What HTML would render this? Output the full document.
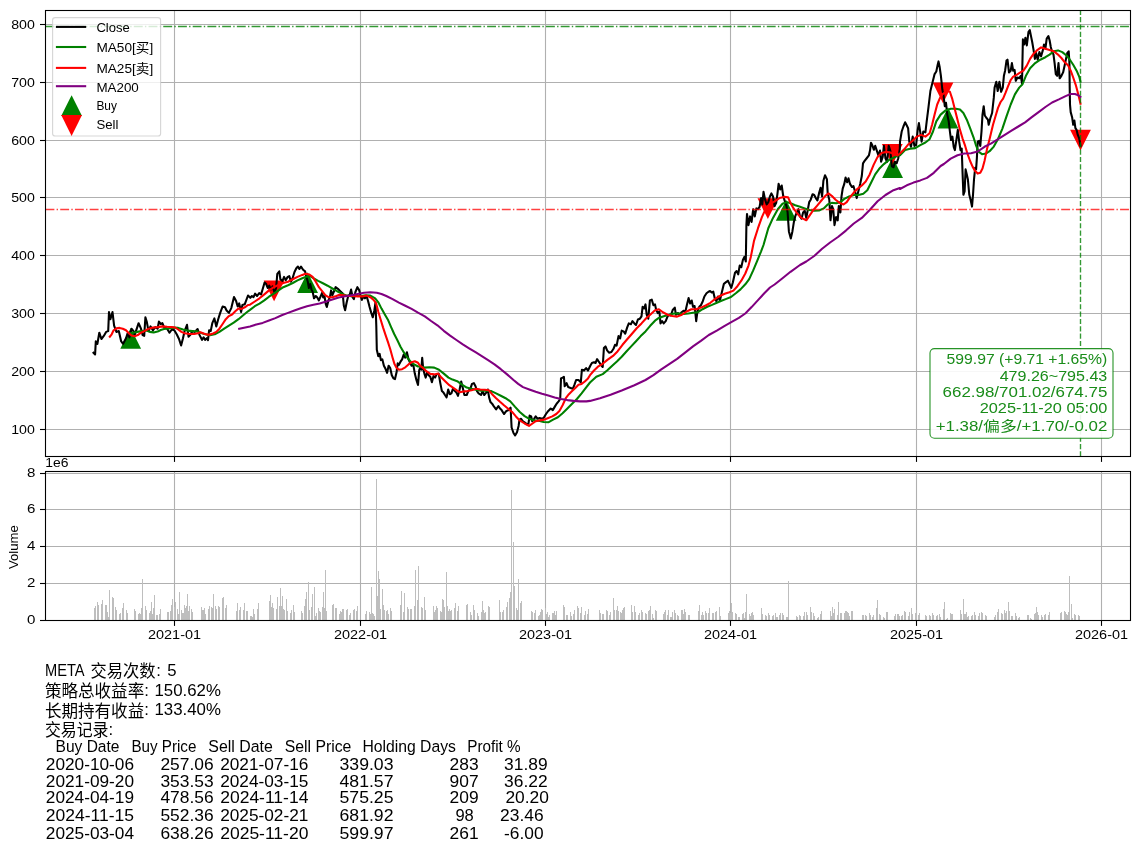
<!DOCTYPE html>
<html lang="zh"><head><meta charset="utf-8"><title>META</title>
<style>html,body{margin:0;padding:0;background:#fff}svg{display:block}</style></head>
<body>
<svg width="1139" height="852" viewBox="0 0 1139 852" font-family="'Liberation Sans', 'Noto Sans CJK SC', sans-serif">
<rect width="1139" height="852" fill="#fff"/>
<g stroke="#b0b0b0" stroke-width="1.1" fill="none">
<path d="M174.5 10.5V456.5"/>
<path d="M174.5 471.5V620.5"/>
<path d="M360.5 10.5V456.5"/>
<path d="M360.5 471.5V620.5"/>
<path d="M545.5 10.5V456.5"/>
<path d="M545.5 471.5V620.5"/>
<path d="M730.5 10.5V456.5"/>
<path d="M730.5 471.5V620.5"/>
<path d="M916.5 10.5V456.5"/>
<path d="M916.5 471.5V620.5"/>
<path d="M1101.5 10.5V456.5"/>
<path d="M1101.5 471.5V620.5"/>
<path d="M45.5 429.5H1130.5"/>
<path d="M45.5 371.5H1130.5"/>
<path d="M45.5 313.5H1130.5"/>
<path d="M45.5 255.5H1130.5"/>
<path d="M45.5 197.5H1130.5"/>
<path d="M45.5 140.5H1130.5"/>
<path d="M45.5 82.5H1130.5"/>
<path d="M45.5 24.5H1130.5"/>
<path d="M45.5 583.5H1130.5"/>
<path d="M45.5 546.5H1130.5"/>
<path d="M45.5 509.5H1130.5"/>
<path d="M45.5 473.5H1130.5"/>
</g>
<clipPath id="c"><rect x="45.5" y="10.5" width="1085.0" height="446.0"/></clipPath>
<path d="M94.5 620.5V608.2M95.5 620.5V605.8M97.5 620.5V601.8M98.5 620.5V605.3M101.5 620.5V603.7M102.5 620.5V600.2M105.5 620.5V604.8M106.5 620.5V604.8M107.5 620.5V612.4M108.5 620.5V617.0M109.5 620.5V590.2M112.5 620.5V596.6M113.5 620.5V598.4M115.5 620.5V606.7M116.5 620.5V609.7M119.5 620.5V614.1M120.5 620.5V613.4M122.5 620.5V608.0M123.5 620.5V603.4M126.5 620.5V610.4M127.5 620.5V613.4M134.5 620.5V609.1M135.5 620.5V610.6M138.5 620.5V613.5M139.5 620.5V612.5M140.5 620.5V614.1M141.5 620.5V607.5M142.5 620.5V579.0M145.5 620.5V605.7M146.5 620.5V609.8M149.5 620.5V612.5M150.5 620.5V610.6M151.5 620.5V602.4M152.5 620.5V613.9M153.5 620.5V608.4M154.5 620.5V594.8M156.5 620.5V614.6M157.5 620.5V614.8M159.5 620.5V613.9M160.5 620.5V609.4M167.5 620.5V611.6M168.5 620.5V611.9M170.5 620.5V610.5M171.5 620.5V605.1M172.5 620.5V598.5M174.5 620.5V606.7M175.5 620.5V602.0M177.5 620.5V609.2M178.5 620.5V613.6M179.5 620.5V592.4M181.5 620.5V609.5M182.5 620.5V612.7M183.5 620.5V613.1M184.5 620.5V605.0M185.5 620.5V607.9M186.5 620.5V606.0M187.5 620.5V594.2M188.5 620.5V611.2M189.5 620.5V606.1M191.5 620.5V608.8M192.5 620.5V611.8M201.5 620.5V607.2M202.5 620.5V609.7M203.5 620.5V609.7M204.5 620.5V607.7M205.5 620.5V614.3M208.5 620.5V609.1M209.5 620.5V605.6M211.5 620.5V606.8M212.5 620.5V607.6M213.5 620.5V594.2M215.5 620.5V606.3M216.5 620.5V608.5M218.5 620.5V606.1M219.5 620.5V607.0M222.5 620.5V597.5M223.5 620.5V596.6M225.5 620.5V608.1M226.5 620.5V605.1M236.5 620.5V611.3M237.5 620.5V603.1M239.5 620.5V610.4M240.5 620.5V606.5M243.5 620.5V609.9M244.5 620.5V602.9M246.5 620.5V611.0M247.5 620.5V610.5M250.5 620.5V616.2M251.5 620.5V615.8M252.5 620.5V616.5M253.5 620.5V609.0M254.5 620.5V614.4M257.5 620.5V609.3M258.5 620.5V602.9M269.5 620.5V601.2M270.5 620.5V595.4M271.5 620.5V607.4M272.5 620.5V603.3M273.5 620.5V607.6M276.5 620.5V609.3M277.5 620.5V596.6M279.5 620.5V606.2M280.5 620.5V587.6M281.5 620.5V605.7M282.5 620.5V596.1M283.5 620.5V608.9M284.5 620.5V609.9M286.5 620.5V598.5M287.5 620.5V610.6M290.5 620.5V612.7M291.5 620.5V609.7M293.5 620.5V604.7M294.5 620.5V611.8M301.5 620.5V610.8M302.5 620.5V613.3M304.5 620.5V606.2M305.5 620.5V598.6M306.5 620.5V591.8M308.5 620.5V582.3M309.5 620.5V609.5M311.5 620.5V607.4M312.5 620.5V594.2M314.5 620.5V587.4M315.5 620.5V616.2M316.5 620.5V613.2M318.5 620.5V608.3M319.5 620.5V611.0M320.5 620.5V611.7M322.5 620.5V607.1M323.5 620.5V592.0M324.5 620.5V607.8M325.5 620.5V570.2M326.5 620.5V611.2M332.5 620.5V604.7M333.5 620.5V604.1M335.5 620.5V608.4M336.5 620.5V608.4M339.5 620.5V613.9M340.5 620.5V611.0M341.5 620.5V611.5M342.5 620.5V609.1M343.5 620.5V608.9M346.5 620.5V610.4M347.5 620.5V609.1M349.5 620.5V615.2M350.5 620.5V613.0M353.5 620.5V610.3M354.5 620.5V608.7M356.5 620.5V610.6M357.5 620.5V606.3M365.5 620.5V614.4M366.5 620.5V611.4M369.5 620.5V612.4M370.5 620.5V613.9M371.5 620.5V587.4M372.5 620.5V612.9M373.5 620.5V613.8M374.5 620.5V615.9M376.5 620.5V479.0M377.5 620.5V596.2M378.5 620.5V570.9M379.5 620.5V579.2M380.5 620.5V608.8M382.5 620.5V589.3M383.5 620.5V605.2M384.5 620.5V609.7M386.5 620.5V611.1M387.5 620.5V609.8M388.5 620.5V613.9M390.5 620.5V608.3M391.5 620.5V611.0M400.5 620.5V605.2M401.5 620.5V591.1M403.5 620.5V611.8M404.5 620.5V592.9M407.5 620.5V607.2M408.5 620.5V609.4M410.5 620.5V609.3M411.5 620.5V608.5M414.5 620.5V605.8M415.5 620.5V570.2M417.5 620.5V600.3M418.5 620.5V566.3M421.5 620.5V607.0M422.5 620.5V608.4M424.5 620.5V597.1M425.5 620.5V609.6M433.5 620.5V605.8M434.5 620.5V612.4M435.5 620.5V610.4M436.5 620.5V606.1M437.5 620.5V608.2M440.5 620.5V611.3M441.5 620.5V611.7M442.5 620.5V598.5M443.5 620.5V599.7M444.5 620.5V607.4M446.5 620.5V572.2M447.5 620.5V606.4M448.5 620.5V610.5M449.5 620.5V608.6M450.5 620.5V610.8M451.5 620.5V609.9M454.5 620.5V608.2M455.5 620.5V603.3M457.5 620.5V610.6M458.5 620.5V606.2M466.5 620.5V604.5M467.5 620.5V603.6M470.5 620.5V612.3M471.5 620.5V614.5M473.5 620.5V604.5M474.5 620.5V610.1M477.5 620.5V613.3M478.5 620.5V616.0M481.5 620.5V611.5M482.5 620.5V600.8M483.5 620.5V609.6M484.5 620.5V612.7M485.5 620.5V611.5M488.5 620.5V605.8M489.5 620.5V607.1M499.5 620.5V599.7M500.5 620.5V611.5M502.5 620.5V611.5M503.5 620.5V610.3M506.5 620.5V606.7M507.5 620.5V601.9M509.5 620.5V598.0M510.5 620.5V592.4M511.5 620.5V490.0M513.5 620.5V542.0M514.5 620.5V585.6M516.5 620.5V608.3M517.5 620.5V609.7M518.5 620.5V579.2M520.5 620.5V603.2M521.5 620.5V600.5M531.5 620.5V611.1M532.5 620.5V612.2M534.5 620.5V613.3M535.5 620.5V609.8M538.5 620.5V615.6M539.5 620.5V614.5M540.5 620.5V611.8M541.5 620.5V609.4M542.5 620.5V609.8M545.5 620.5V608.1M546.5 620.5V613.7M547.5 620.5V612.1M548.5 620.5V616.6M549.5 620.5V615.2M552.5 620.5V612.6M553.5 620.5V613.2M554.5 620.5V611.4M555.5 620.5V615.3M556.5 620.5V611.2M563.5 620.5V605.0M564.5 620.5V606.5M566.5 620.5V615.0M567.5 620.5V614.9M570.5 620.5V612.4M571.5 620.5V616.2M573.5 620.5V614.0M574.5 620.5V610.2M577.5 620.5V606.1M578.5 620.5V607.6M580.5 620.5V612.9M581.5 620.5V607.3M584.5 620.5V614.7M585.5 620.5V610.9M587.5 620.5V613.9M588.5 620.5V608.9M599.5 620.5V610.3M600.5 620.5V612.5M602.5 620.5V613.6M603.5 620.5V613.8M606.5 620.5V610.2M607.5 620.5V611.3M609.5 620.5V615.4M610.5 620.5V612.1M613.5 620.5V597.8M614.5 620.5V610.2M616.5 620.5V609.9M617.5 620.5V606.4M618.5 620.5V610.9M620.5 620.5V611.7M621.5 620.5V612.6M622.5 620.5V610.0M623.5 620.5V608.2M624.5 620.5V607.1M631.5 620.5V604.7M632.5 620.5V612.3M634.5 620.5V605.5M635.5 620.5V612.4M638.5 620.5V614.7M639.5 620.5V612.5M641.5 620.5V609.7M642.5 620.5V611.7M645.5 620.5V612.7M646.5 620.5V614.1M648.5 620.5V611.4M649.5 620.5V610.0M650.5 620.5V605.6M652.5 620.5V614.3M653.5 620.5V618.0M655.5 620.5V609.8M656.5 620.5V610.7M663.5 620.5V613.8M664.5 620.5V612.2M665.5 620.5V610.0M667.5 620.5V614.5M668.5 620.5V609.5M670.5 620.5V616.6M671.5 620.5V616.7M672.5 620.5V611.7M674.5 620.5V610.3M675.5 620.5V613.1M677.5 620.5V615.2M678.5 620.5V616.0M681.5 620.5V610.3M682.5 620.5V610.2M683.5 620.5V613.5M684.5 620.5V609.1M685.5 620.5V611.7M688.5 620.5V615.3M689.5 620.5V615.0M698.5 620.5V610.8M699.5 620.5V605.1M701.5 620.5V614.5M702.5 620.5V612.2M703.5 620.5V614.6M705.5 620.5V610.8M706.5 620.5V612.7M708.5 620.5V612.5M709.5 620.5V608.4M712.5 620.5V612.7M713.5 620.5V612.7M715.5 620.5V612.1M716.5 620.5V610.8M719.5 620.5V606.6M720.5 620.5V616.3M728.5 620.5V612.8M729.5 620.5V611.3M730.5 620.5V613.2M731.5 620.5V603.1M732.5 620.5V612.1M735.5 620.5V613.2M736.5 620.5V614.0M738.5 620.5V616.6M739.5 620.5V616.5M742.5 620.5V613.9M743.5 620.5V613.4M744.5 620.5V618.2M745.5 620.5V612.0M746.5 620.5V593.5M749.5 620.5V614.1M750.5 620.5V616.0M751.5 620.5V613.4M752.5 620.5V611.7M753.5 620.5V614.5M761.5 620.5V607.7M762.5 620.5V614.3M765.5 620.5V615.3M766.5 620.5V615.5M768.5 620.5V613.4M769.5 620.5V615.4M772.5 620.5V615.5M773.5 620.5V615.4M775.5 620.5V613.0M776.5 620.5V616.8M777.5 620.5V617.2M779.5 620.5V615.4M780.5 620.5V612.8M782.5 620.5V612.8M783.5 620.5V614.8M786.5 620.5V616.5M787.5 620.5V616.8M788.5 620.5V580.6M796.5 620.5V616.1M797.5 620.5V616.9M799.5 620.5V615.4M800.5 620.5V615.8M803.5 620.5V615.8M804.5 620.5V612.4M806.5 620.5V612.3M807.5 620.5V615.1M810.5 620.5V606.5M811.5 620.5V611.5M813.5 620.5V612.5M814.5 620.5V616.0M817.5 620.5V617.8M818.5 620.5V616.8M820.5 620.5V613.5M821.5 620.5V611.1M830.5 620.5V610.8M831.5 620.5V615.6M832.5 620.5V606.9M833.5 620.5V612.6M834.5 620.5V609.1M837.5 620.5V614.9M838.5 620.5V601.6M840.5 620.5V613.0M841.5 620.5V612.9M844.5 620.5V612.9M845.5 620.5V610.5M846.5 620.5V610.6M847.5 620.5V611.9M848.5 620.5V613.0M849.5 620.5V615.6M851.5 620.5V611.2M852.5 620.5V610.5M862.5 620.5V614.6M863.5 620.5V615.2M865.5 620.5V615.4M866.5 620.5V616.4M869.5 620.5V612.9M870.5 620.5V615.0M872.5 620.5V617.3M873.5 620.5V615.1M876.5 620.5V608.2M877.5 620.5V599.9M879.5 620.5V613.6M880.5 620.5V614.9M883.5 620.5V617.2M884.5 620.5V617.5M886.5 620.5V611.7M887.5 620.5V612.2M894.5 620.5V616.4M895.5 620.5V614.0M897.5 620.5V613.9M898.5 620.5V613.6M899.5 620.5V616.4M901.5 620.5V616.2M902.5 620.5V614.8M904.5 620.5V611.2M905.5 620.5V611.9M908.5 620.5V615.6M909.5 620.5V611.7M911.5 620.5V608.3M912.5 620.5V614.4M915.5 620.5V613.0M916.5 620.5V610.3M918.5 620.5V614.5M919.5 620.5V612.5M925.5 620.5V615.3M926.5 620.5V616.3M929.5 620.5V615.4M930.5 620.5V615.5M932.5 620.5V612.6M933.5 620.5V615.1M936.5 620.5V615.5M937.5 620.5V614.6M939.5 620.5V614.2M940.5 620.5V616.6M943.5 620.5V609.1M944.5 620.5V602.1M946.5 620.5V618.8M947.5 620.5V618.4M950.5 620.5V613.4M951.5 620.5V614.2M952.5 620.5V614.1M960.5 620.5V610.1M961.5 620.5V613.9M963.5 620.5V598.8M964.5 620.5V613.5M965.5 620.5V614.2M966.5 620.5V612.0M967.5 620.5V617.1M968.5 620.5V615.6M971.5 620.5V616.2M972.5 620.5V615.1M974.5 620.5V612.4M975.5 620.5V614.7M978.5 620.5V616.3M979.5 620.5V612.8M981.5 620.5V612.0M982.5 620.5V613.0M985.5 620.5V615.1M986.5 620.5V615.5M994.5 620.5V617.0M995.5 620.5V615.4M997.5 620.5V612.0M998.5 620.5V608.9M1001.5 620.5V613.3M1002.5 620.5V614.1M1004.5 620.5V610.2M1005.5 620.5V612.8M1006.5 620.5V611.4M1008.5 620.5V602.2M1009.5 620.5V610.7M1011.5 620.5V615.7M1012.5 620.5V615.8M1015.5 620.5V613.4M1016.5 620.5V615.5M1018.5 620.5V618.1M1019.5 620.5V617.3M1027.5 620.5V614.7M1028.5 620.5V614.5M1030.5 620.5V617.7M1031.5 620.5V618.7M1034.5 620.5V613.9M1035.5 620.5V613.2M1036.5 620.5V607.0M1037.5 620.5V611.8M1038.5 620.5V614.8M1041.5 620.5V614.9M1042.5 620.5V616.5M1044.5 620.5V615.0M1045.5 620.5V613.5M1048.5 620.5V615.2M1049.5 620.5V611.6M1060.5 620.5V613.2M1061.5 620.5V611.5M1064.5 620.5V610.6M1065.5 620.5V611.6M1066.5 620.5V613.7M1067.5 620.5V614.9M1068.5 620.5V612.3M1069.5 620.5V575.7M1071.5 620.5V604.0M1072.5 620.5V617.6M1074.5 620.5V614.4M1075.5 620.5V614.9M1078.5 620.5V614.6M1079.5 620.5V615.9" stroke="#bebebe" stroke-width="1" fill="none" shape-rendering="crispEdges"/>
<path d="M130.7 327.90000000000003L141.1 348.7H120.29999999999998Z" fill="#008000"/>
<path d="M307.6 272.20000000000005L318.0 293.0H297.20000000000005Z" fill="#008000"/>
<path d="M786.2 199.9L796.6 220.70000000000002H775.8000000000001Z" fill="#008000"/>
<path d="M892.6 157.29999999999998L903.0 178.1H882.2Z" fill="#008000"/>
<path d="M948.0 107.6L958.4 128.4H937.6Z" fill="#008000"/>
<path d="M274.1 301.29999999999995L284.5 280.5H263.70000000000005Z" fill="#ff0000"/>
<path d="M767.9 219.0L778.3 198.2H757.5Z" fill="#ff0000"/>
<path d="M892.3 164.9L902.6999999999999 144.1H881.9Z" fill="#ff0000"/>
<path d="M943.0 103.2L953.4 82.39999999999999H932.6Z" fill="#ff0000"/>
<path d="M1080.5 150.6L1090.9 129.79999999999998H1070.1Z" fill="#ff0000"/>
<g clip-path="url(#c)" fill="none" stroke-width="2.08" stroke-linejoin="round" stroke-linecap="square">
<path d="M93.5 352.8 95.1 354.4 95.8 341.4 97.4 343.8 99.3 332.7 101.4 339.0 103.8 335.9 106.1 331.9 108.2 331.1 109.0 312.1 110.4 319.2 112.5 312.1 114.1 325.6 116.4 331.9 118.8 331.1 121.2 341.4 123.1 343.8 126.0 338.2 127.5 333.5 129.4 337.4 131.5 328.7 133.6 331.1 134.7 335.1 136.2 330.3 138.6 323.2 141.0 328.7 142.6 335.1 144.2 335.9 145.4 317.2 146.9 322.4 148.5 331.1 150.5 326.4 152.9 330.3 155.3 327.1 157.6 328.7 158.9 321.6 160.8 324.0 162.4 323.2 164.0 327.1 167.1 328.7 169.5 332.7 171.9 329.5 174.3 330.3 176.7 334.3 179.0 339.0 181.1 345.4 183.0 338.2 184.6 331.1 187.0 324.8 188.5 336.7 190.1 335.1 192.5 331.1 194.9 331.9 197.6 329.0 199.6 335.1 202.0 339.8 203.6 337.4 205.2 339.8 206.8 338.2 208.0 340.1 209.1 330.3 210.7 331.1 212.3 323.2 214.4 318.4 216.3 326.4 218.2 319.2 220.2 312.9 222.6 306.5 225.0 307.3 226.6 310.5 228.9 312.9 231.3 308.1 234.0 297.0 236.1 301.0 237.7 306.5 239.2 303.4 241.1 312.1 242.4 305.0 244.8 304.2 248.0 295.5 250.3 297.8 251.9 296.0 253.5 297.2 255.1 293.6 257.1 296.0 259.2 293.1 261.1 294.4 263.0 288.0 264.6 282.5 266.2 284.1 267.7 288.0 269.3 285.7 270.9 289.6 272.5 286.4 274.6 292.8 276.1 288.0 277.3 273.8 279.3 271.4 280.4 279.3 282.5 280.9 284.1 276.9 285.7 280.1 287.7 276.9 289.3 276.1 290.9 281.7 292.5 278.5 294.4 272.2 296.3 268.2 297.9 266.6 299.4 269.0 301.0 266.6 303.1 269.8 305.1 271.4 306.2 276.1 307.8 281.7 308.9 288.0 310.2 284.1 311.5 289.6 312.7 292.0 314.0 298.3 315.8 296.0 317.3 297.5 318.9 300.4 320.5 296.7 322.1 292.8 323.2 297.5 324.5 296.0 325.7 303.9 326.8 307.0 328.4 300.7 330.0 296.7 331.1 290.4 332.4 295.2 333.7 292.0 335.6 287.2 337.9 288.8 340.3 291.2 342.7 293.6 343.8 305.5 345.1 310.2 346.7 302.3 348.2 296.0 349.8 294.4 351.1 289.6 352.7 297.5 353.9 299.1 355.4 292.0 357.4 287.2 359.3 290.4 360.6 296.0 361.9 299.9 363.3 296.7 364.9 298.3 366.5 296.0 368.0 300.7 369.6 307.0 371.2 312.6 372.8 317.3 374.4 310.2 375.5 302.3 376.3 326.1 376.8 349.8 378.3 356.2 379.6 353.8 380.9 360.1 382.3 359.3 383.9 365.7 385.5 368.8 387.1 372.8 388.6 365.7 390.2 368.0 391.8 375.2 393.4 378.3 395.0 379.1 396.6 372.0 397.7 363.3 398.9 364.9 400.5 361.7 402.1 359.3 403.7 354.6 405.3 357.7 406.9 352.2 408.5 359.3 410.0 362.5 411.6 365.7 413.2 364.1 414.8 373.6 416.4 379.9 418.0 385.0 419.2 370.4 420.0 368.1 421.3 369.7 422.2 357.8 423.2 368.9 424.4 373.6 425.7 377.6 427.1 372.0 428.7 375.2 430.3 376.8 431.9 382.3 433.5 376.0 435.1 377.6 436.6 374.4 438.7 373.6 440.3 383.1 441.9 391.1 443.5 392.6 445.0 395.0 446.6 397.4 448.2 389.5 449.8 394.2 451.4 393.4 453.0 388.7 454.9 391.1 456.4 392.6 458.0 395.8 459.6 389.5 461.2 381.5 462.8 387.9 464.4 395.0 466.7 395.0 468.3 391.1 470.4 388.7 472.0 383.9 473.9 383.1 475.5 386.3 477.0 391.1 478.6 393.4 481.0 395.0 482.6 391.1 484.2 395.0 486.2 392.6 487.8 389.5 489.1 397.4 490.5 402.1 492.1 403.7 493.7 406.1 496.1 409.3 498.4 406.1 500.0 408.5 501.6 410.1 504.0 414.0 506.4 410.9 508.7 410.1 510.6 407.7 511.6 427.5 513.5 433.0 515.1 435.4 517.0 432.3 518.6 425.9 519.5 419.6 521.1 418.8 523.0 421.5 524.9 422.7 527.0 424.3 528.5 423.5 529.6 415.6 531.2 416.4 532.2 421.2 534.1 418.8 535.7 416.4 537.6 418.8 539.6 418.0 541.7 418.8 543.6 418.0 546.0 414.0 548.3 410.9 550.7 408.5 552.8 410.1 554.7 406.9 556.6 403.7 558.6 401.4 560.2 399.0 561.0 378.4 562.6 377.6 563.9 376.8 564.7 386.3 566.6 383.1 568.2 387.1 570.5 387.9 572.9 388.7 574.5 384.7 576.1 380.0 578.5 380.0 580.8 382.3 581.9 369.7 584.0 370.5 586.1 368.1 588.0 370.5 590.3 365.7 591.9 363.0 594.0 362.3 595.5 363.0 597.1 359.1 598.7 361.5 600.8 364.6 602.7 367.0 603.9 348.0 605.5 346.4 607.1 350.4 609.0 352.7 611.4 352.0 613.5 348.8 615.0 344.8 616.6 345.6 618.5 336.1 620.1 338.5 621.7 330.6 623.6 331.4 625.2 333.7 627.2 327.4 628.8 323.4 630.9 324.2 632.5 321.1 634.4 323.4 636.0 325.0 637.9 319.5 639.9 318.7 641.5 316.3 642.6 306.8 644.2 308.4 645.5 304.4 646.7 314.7 648.3 318.7 649.9 300.5 651.8 299.7 653.4 305.2 655.0 304.4 656.2 310.0 657.8 313.1 659.4 311.5 660.5 323.4 662.1 321.1 663.7 323.4 665.7 321.1 667.6 316.3 669.2 314.7 670.8 315.5 672.7 310.0 674.8 307.6 675.9 314.7 677.9 313.1 679.5 314.7 681.6 312.3 683.5 310.8 685.4 311.5 687.0 304.4 688.6 298.1 690.1 303.6 691.7 300.5 693.0 306.8 694.6 306.0 696.2 321.1 697.4 311.5 699.3 306.8 700.9 305.2 702.8 301.2 704.4 296.5 706.5 293.3 708.5 291.7 710.1 291.0 711.7 292.5 713.3 291.7 714.9 298.9 716.4 301.2 718.0 296.5 719.9 300.5 721.8 292.5 723.9 283.8 726.0 282.2 727.9 280.7 729.8 284.6 731.3 287.8 732.9 282.2 735.0 272.7 736.6 271.1 738.2 274.3 739.7 265.6 741.3 267.2 742.9 259.9 744.5 256.8 745.8 261.5 746.4 225.1 747.0 214.0 748.5 225.1 750.1 216.4 751.6 221.9 753.2 209.2 754.8 216.4 756.4 208.4 758.0 209.2 759.6 206.8 761.1 198.1 762.3 204.5 763.5 191.8 765.1 199.7 766.7 204.5 768.3 202.1 769.9 196.5 771.4 193.4 773.0 196.5 774.6 206.1 776.2 202.9 777.5 193.4 778.6 183.9 780.2 189.4 781.7 185.5 783.3 196.5 784.9 201.3 786.5 206.1 787.6 212.4 788.9 231.4 790.8 238.5 792.4 231.4 793.9 221.9 795.2 216.4 796.8 212.4 798.4 209.2 800.0 216.4 801.5 218.7 803.1 212.4 804.7 210.8 806.3 217.9 807.9 209.2 809.2 202.1 810.7 199.7 812.6 194.2 814.2 195.0 815.8 198.1 817.4 200.5 819.0 193.4 820.6 187.8 822.1 196.5 823.4 180.7 825.0 175.2 826.9 179.1 827.7 193.4 829.3 199.7 830.5 220.3 832.0 206.1 833.2 209.2 834.5 225.1 836.1 217.1 837.7 220.3 838.8 206.1 840.4 212.4 841.5 196.5 842.7 188.6 844.3 183.9 845.6 177.5 847.2 182.3 848.5 178.3 850.0 183.9 851.9 187.0 853.5 186.2 855.1 191.8 856.7 198.1 858.6 190.2 860.2 183.9 861.8 176.0 863.0 163.3 864.6 160.9 866.5 158.5 868.9 155.4 870.0 150.6 871.0 142.7 872.5 145.8 873.8 149.8 875.2 145.8 876.8 150.6 878.4 155.4 880.0 150.6 881.1 161.7 882.7 156.9 883.9 145.8 885.5 158.5 887.1 161.7 888.7 145.8 890.3 150.6 891.9 166.4 893.5 167.2 895.0 161.7 896.6 163.3 898.2 158.5 899.8 149.0 900.0 141.7 901.7 131.5 903.4 126.5 905.1 122.3 906.8 125.6 908.1 128.2 909.3 141.7 911.0 146.8 912.7 136.6 914.4 145.9 916.1 145.1 917.7 129.9 918.9 123.1 920.3 132.4 921.6 141.7 923.3 131.5 925.4 132.4 926.7 121.4 928.4 107.9 930.4 91.0 932.5 82.5 934.6 74.1 936.3 71.5 937.5 65.6 938.5 61.4 939.7 67.3 940.9 75.8 942.3 89.3 943.6 96.1 944.8 106.2 946.0 102.8 947.3 114.6 948.7 121.4 949.9 131.5 951.0 140.0 952.4 136.6 953.7 146.8 954.9 150.1 956.6 138.3 957.8 129.9 959.2 141.7 960.5 150.1 961.7 148.5 962.5 171.1 963.4 194.8 964.6 191.4 965.6 169.4 966.8 174.5 967.9 179.5 969.3 194.8 970.6 199.8 972.0 206.6 973.0 194.8 974.0 179.5 975.2 167.7 976.1 169.4 976.9 157.6 977.7 141.7 979.1 140.8 980.3 145.9 981.5 131.5 982.5 114.6 983.7 106.2 984.8 115.5 986.5 118.0 987.9 119.7 988.7 124.8 990.4 118.0 992.1 113.0 993.8 97.7 994.6 87.6 996.3 81.7 997.7 91.0 999.4 81.7 1001.1 91.8 1002.8 87.6 1003.9 75.8 1005.1 70.7 1006.5 60.6 1007.5 59.7 1009.0 72.4 1010.7 70.7 1011.9 63.1 1013.2 70.7 1014.6 69.9 1015.8 80.8 1017.5 77.5 1019.2 78.3 1020.8 75.8 1022.0 83.4 1022.9 39.4 1024.2 44.5 1025.4 37.7 1026.8 45.4 1028.5 31.8 1029.8 30.1 1031.0 36.1 1032.2 42.0 1033.5 49.6 1034.9 58.9 1036.1 53.0 1037.7 59.7 1039.4 52.1 1041.1 56.3 1042.8 50.4 1044.0 44.5 1045.4 48.7 1046.7 38.6 1048.4 36.1 1049.6 40.3 1050.8 47.0 1052.1 52.1 1053.5 54.6 1054.6 63.1 1055.8 74.1 1057.2 75.8 1058.5 63.1 1059.7 78.3 1061.4 75.8 1063.1 72.4 1064.8 64.8 1066.0 58.9 1067.3 53.0 1068.7 51.3 1069.4 62.3 1069.7 87.6 1070.0 104.5 1070.7 112.1 1072.1 117.2 1073.2 124.8 1074.4 120.6 1075.4 128.2 1076.6 129.9 1077.8 134.9 1079.2 138.3 1080.5 145.9" stroke="#000"/>
<path d="M130.4 333.2 133.1 332.7 137.0 331.9 141.8 331.1 146.5 330.6 149.7 331.9 153.7 332.4 157.6 331.6 160.8 330.0 164.0 329.0 168.7 328.4 173.5 327.6 178.2 327.9 183.0 329.5 187.7 330.6 192.5 331.1 197.3 331.4 200.4 332.7 205.2 334.3 209.9 335.1 214.7 334.3 219.4 331.9 224.2 328.7 228.9 325.6 233.7 322.7 238.5 319.2 243.2 315.3 248.0 311.3 250.0 309.9 254.8 306.2 259.5 303.6 264.3 300.4 269.0 296.7 273.8 293.6 278.5 290.4 283.3 287.2 288.0 285.2 292.8 283.0 297.5 280.4 302.3 278.2 306.2 276.6 310.2 276.1 313.4 278.2 318.1 280.9 322.9 283.3 327.6 285.7 332.4 288.5 337.1 291.2 341.9 293.6 346.7 295.6 351.4 296.3 356.2 296.0 360.9 296.0 365.7 295.2 370.4 295.6 375.2 298.3 378.3 302.3 381.5 308.6 384.7 314.2 387.9 319.7 391.0 326.8 394.2 334.0 397.4 340.3 400.5 346.7 403.7 352.2 406.9 357.0 410.0 360.9 413.2 363.8 418.0 366.5 420.0 366.5 424.8 367.6 429.5 367.3 434.3 367.6 439.0 369.7 443.8 373.6 448.5 377.6 452.5 379.6 457.2 381.2 462.0 384.7 466.7 387.6 471.5 388.7 476.2 389.8 481.0 390.7 486.5 390.7 491.3 391.1 496.1 393.4 500.8 395.8 505.6 398.2 510.3 401.4 515.1 406.9 519.8 412.0 524.6 416.1 529.3 418.8 534.1 420.4 538.8 420.8 543.6 422.0 548.3 422.3 553.1 419.6 557.9 417.2 562.6 413.2 567.4 408.5 572.1 403.7 576.9 399.0 581.6 393.4 586.4 387.1 590.0 382.5 596.3 376.8 602.7 374.1 607.4 370.2 612.2 365.7 616.9 361.5 621.7 356.7 626.4 351.5 631.2 346.4 636.0 341.2 640.7 336.1 645.5 331.4 650.2 325.8 655.0 320.7 658.9 317.9 663.7 316.3 669.2 314.7 674.0 313.5 678.7 313.5 683.5 313.9 688.2 313.5 693.0 312.8 697.7 312.3 702.5 309.2 707.3 306.8 712.0 304.9 716.8 302.8 721.5 300.8 726.3 298.9 731.0 297.0 735.8 293.3 740.5 289.4 745.3 284.3 749.2 279.1 753.2 270.4 757.2 260.8 761.1 251.3 763.5 245.0 768.3 228.2 773.0 217.9 777.8 209.2 782.5 203.7 786.5 202.1 790.5 203.2 795.2 205.3 800.0 206.8 804.7 208.4 809.5 210.0 814.2 210.8 819.0 210.5 823.7 208.4 827.7 204.5 831.7 202.9 836.4 203.2 840.4 202.1 844.3 198.9 849.1 196.5 853.8 195.0 858.6 195.0 863.3 193.7 867.3 190.2 871.3 182.3 875.2 174.4 879.2 168.8 883.9 164.1 888.7 160.1 893.5 157.7 898.2 155.4 900.0 155.2 905.1 150.1 910.1 148.8 915.2 148.1 920.3 145.1 925.4 142.5 929.6 139.2 933.0 131.5 936.3 121.4 940.6 114.6 945.6 110.4 950.7 108.7 955.8 108.7 960.0 109.6 963.4 113.0 966.8 119.7 970.1 128.2 973.5 137.3 976.1 145.7 978.6 151.7 982.0 154.2 986.2 153.4 989.6 151.2 993.8 146.6 998.0 139.0 1002.3 128.8 1006.5 116.3 1010.7 104.5 1014.9 94.4 1019.2 87.6 1022.5 84.2 1025.9 75.8 1030.1 68.2 1035.2 63.1 1040.3 59.7 1045.4 57.2 1049.6 54.6 1053.8 51.3 1058.0 50.4 1062.3 52.1 1066.5 55.5 1069.9 59.7 1073.2 64.8 1076.6 70.7 1079.2 76.6 1080.5 81.7" stroke="#008000"/>
<path d="M109.8 336.7 111.7 334.3 113.6 330.3 116.4 328.4 119.6 327.9 122.8 328.7 126.0 330.3 129.1 333.5 131.5 335.5 134.7 336.2 137.8 335.1 141.0 332.7 144.2 331.1 148.1 329.0 152.9 327.6 157.6 327.1 162.4 326.4 167.1 326.8 171.9 327.1 175.1 327.5 178.2 329.5 181.4 331.9 184.6 333.2 189.3 334.0 194.1 334.0 198.0 333.2 200.4 332.2 203.6 333.5 206.8 334.6 209.9 334.6 213.1 333.5 216.3 331.9 219.4 328.7 222.6 324.0 225.8 319.2 228.9 316.1 232.1 314.5 235.3 311.3 238.5 308.5 241.6 308.9 244.8 307.3 248.0 305.0 250.0 304.7 254.8 301.5 259.5 298.3 264.3 294.4 269.0 290.4 273.8 287.2 278.5 284.9 283.3 283.0 288.0 281.7 292.8 279.3 297.5 276.9 302.3 274.9 305.5 273.8 309.4 274.6 312.6 276.9 315.8 281.7 318.9 287.2 322.1 291.2 325.3 295.2 328.4 297.1 332.4 297.2 336.4 296.0 339.5 294.8 343.5 295.2 348.2 296.0 353.0 296.0 357.7 296.4 362.5 296.4 366.5 295.6 370.4 297.2 373.6 299.9 376.0 303.1 378.3 311.8 380.7 319.7 383.1 327.6 385.5 334.8 387.9 341.9 390.2 349.0 392.6 357.7 394.5 364.1 396.6 368.0 398.9 369.6 402.1 369.2 405.3 367.3 408.5 364.4 411.6 362.2 414.8 361.2 418.0 362.8 420.0 365.7 423.2 368.1 426.3 371.2 430.3 373.9 434.3 374.4 438.2 373.6 441.4 377.6 445.4 381.5 449.3 385.2 453.3 387.9 457.2 390.7 459.6 392.2 463.6 391.4 467.5 391.1 471.5 390.3 476.2 388.7 480.2 389.5 485.0 389.8 488.9 390.3 492.1 394.2 496.1 398.2 500.0 401.8 504.0 405.3 507.9 408.5 511.9 411.7 515.9 416.4 519.8 420.4 524.6 423.5 529.0 425.9 532.5 423.5 535.7 421.2 539.6 420.4 544.4 419.6 548.3 418.0 552.3 416.4 556.3 414.0 559.4 410.9 562.6 405.3 565.8 398.2 568.9 394.2 572.1 391.1 575.3 387.9 578.5 384.7 581.6 383.9 584.8 381.5 588.0 378.4 590.0 375.2 594.0 370.5 597.9 366.7 602.7 363.8 607.4 359.9 613.0 355.9 617.7 351.2 622.5 344.8 627.2 339.3 632.0 333.7 636.7 328.2 641.5 323.4 646.2 318.2 651.0 313.9 655.0 310.3 658.9 309.2 662.9 312.3 667.6 314.7 672.4 316.0 677.1 316.6 681.9 314.7 686.7 311.5 691.4 309.2 696.2 309.2 700.9 307.6 705.7 305.5 710.4 302.8 715.2 298.9 719.9 296.0 724.7 293.8 729.4 292.2 733.4 290.6 737.4 286.2 741.3 280.7 745.3 273.5 748.5 265.6 750.8 256.9 753.2 245.0 754.0 240.9 758.0 228.2 761.9 217.1 765.9 208.4 769.9 204.5 774.6 201.3 779.4 198.1 784.1 196.9 788.1 197.3 790.5 202.9 793.6 208.4 797.6 214.0 801.5 217.9 806.3 220.3 809.5 215.6 813.4 210.0 817.4 205.3 821.4 200.5 825.3 195.8 828.5 193.4 831.7 195.8 835.6 199.7 839.6 202.9 843.5 204.5 846.7 202.1 849.9 197.3 853.8 192.6 857.8 188.6 861.8 185.5 865.7 181.5 869.7 174.4 873.6 164.9 877.6 156.9 881.6 153.0 885.5 151.9 889.5 152.2 893.5 153.8 897.4 155.4 900.0 153.5 904.2 149.3 908.5 144.2 912.7 140.8 916.9 136.6 921.1 134.9 925.4 136.6 929.6 133.2 932.1 124.8 934.6 114.6 937.2 104.5 939.7 98.6 942.3 94.4 944.8 92.7 947.3 91.0 949.9 91.8 952.4 99.4 954.9 109.6 957.5 119.7 960.0 129.9 962.5 138.3 965.1 145.7 967.6 154.2 970.1 161.0 972.7 166.9 975.2 171.1 977.7 173.6 980.3 172.8 982.5 168.6 984.5 161.0 987.0 149.1 989.6 139.0 993.0 124.8 995.5 116.3 998.0 107.9 1000.6 102.0 1003.1 98.6 1005.6 92.7 1008.2 85.9 1010.7 80.0 1013.2 76.6 1016.6 74.9 1020.0 72.7 1023.4 70.7 1026.8 65.6 1030.1 58.9 1033.5 53.8 1036.9 50.4 1041.1 47.4 1045.4 48.7 1049.6 50.1 1053.8 51.3 1058.0 54.6 1061.4 58.0 1064.8 62.3 1068.2 65.6 1070.7 70.7 1073.2 77.5 1075.8 85.1 1078.3 94.4 1080.5 103.7" stroke="#ff0000"/>
<path d="M239.2 328.7 250.0 326.4 256.3 324.5 262.7 322.9 269.0 320.5 275.4 318.1 281.7 315.3 288.0 312.9 294.4 310.5 300.7 308.2 307.0 306.2 313.4 304.7 319.7 303.4 326.1 301.5 332.4 299.4 338.7 297.5 345.1 296.3 351.4 295.2 357.7 293.9 364.1 292.8 370.4 292.3 376.8 292.8 381.5 294.0 386.3 296.0 392.6 299.1 398.9 302.6 405.3 305.8 411.6 308.9 418.0 312.6 424.8 316.3 431.1 321.0 437.4 325.3 443.8 330.8 450.1 335.6 456.4 340.0 462.8 344.3 469.1 348.3 475.5 352.2 481.8 356.2 488.1 360.2 494.5 364.4 500.8 369.2 507.1 374.4 513.5 380.0 518.2 383.9 523.0 387.1 529.3 389.5 535.7 391.8 542.0 393.8 548.3 395.5 554.7 397.4 561.0 399.0 567.4 400.1 573.7 400.9 580.0 401.4 586.4 401.4 590.0 400.9 600.0 398.2 610.6 394.7 621.7 390.5 634.4 385.2 645.5 380.0 653.4 375.2 661.3 369.4 669.2 364.2 677.1 358.8 685.1 352.7 693.0 346.4 700.9 340.9 708.8 335.0 716.8 330.6 724.7 325.8 732.6 321.4 738.9 317.9 745.3 313.5 751.6 307.1 758.0 300.1 764.3 293.3 770.0 287.5 774.6 284.5 782.5 278.2 790.5 271.8 800.0 265.0 806.3 261.5 814.2 256.0 822.1 248.8 830.1 242.5 838.0 237.0 845.9 230.6 853.8 223.5 861.8 217.9 869.7 210.0 877.6 201.3 885.5 195.0 893.5 190.2 899.8 188.0 900.0 189.0 906.8 185.3 913.5 182.6 920.3 180.4 927.0 177.9 933.8 172.8 940.6 166.0 943.9 164.0 950.7 158.6 957.5 155.2 964.2 153.5 971.0 153.2 977.7 151.5 984.5 146.8 991.3 143.4 998.0 139.2 1004.8 134.9 1011.5 130.7 1018.3 126.5 1025.1 122.3 1031.8 117.2 1038.6 112.1 1045.4 107.0 1052.1 102.5 1058.9 99.4 1065.6 96.1 1070.7 94.0 1074.9 94.0 1078.3 95.2 1080.5 96.9" stroke="#800080"/>
</g>
<path d="M45.5 26.5H1130.5" stroke="#008000" stroke-opacity="0.8" stroke-width="1.39" stroke-dasharray="8.89 2.22 1.39 2.22" fill="none"/>
<path d="M45.5 209.5H1130.5" stroke="#ff0000" stroke-opacity="0.75" stroke-width="1.39" stroke-dasharray="8.89 2.22 1.39 2.22" fill="none"/>
<path d="M1080.5 456.5V10.5" stroke="#008000" stroke-opacity="0.8" stroke-width="1.39" stroke-dasharray="5.14 2.22" fill="none"/>
<rect x="45.5" y="10.5" width="1085.0" height="446.0" fill="none" stroke="#000" stroke-width="1.1"/>
<rect x="45.5" y="471.5" width="1085.0" height="149.0" fill="none" stroke="#000" stroke-width="1.1"/>
<g stroke="#000" stroke-width="1.1" fill="none">
<path d="M40.0 429.5H45.5"/>
<path d="M40.0 371.5H45.5"/>
<path d="M40.0 313.5H45.5"/>
<path d="M40.0 255.5H45.5"/>
<path d="M40.0 197.5H45.5"/>
<path d="M40.0 140.5H45.5"/>
<path d="M40.0 82.5H45.5"/>
<path d="M40.0 24.5H45.5"/>
<path d="M40.0 620.5H45.5"/>
<path d="M40.0 583.5H45.5"/>
<path d="M40.0 546.5H45.5"/>
<path d="M40.0 509.5H45.5"/>
<path d="M40.0 473.5H45.5"/>
<path d="M174.5 456.5v5.4"/>
<path d="M174.5 620.5v5.4"/>
<path d="M360.5 456.5v5.4"/>
<path d="M360.5 620.5v5.4"/>
<path d="M545.5 456.5v5.4"/>
<path d="M545.5 620.5v5.4"/>
<path d="M730.5 456.5v5.4"/>
<path d="M730.5 620.5v5.4"/>
<path d="M916.5 456.5v5.4"/>
<path d="M916.5 620.5v5.4"/>
<path d="M1101.5 456.5v5.4"/>
<path d="M1101.5 620.5v5.4"/>
</g>
<g font-size="12.6" fill="#000">
<text x="34.8" y="434.0" text-anchor="end" textLength="23.6" lengthAdjust="spacingAndGlyphs">100</text>
<text x="34.8" y="376.0" text-anchor="end" textLength="23.6" lengthAdjust="spacingAndGlyphs">200</text>
<text x="34.8" y="318.0" text-anchor="end" textLength="23.6" lengthAdjust="spacingAndGlyphs">300</text>
<text x="34.8" y="260.0" text-anchor="end" textLength="23.6" lengthAdjust="spacingAndGlyphs">400</text>
<text x="34.8" y="202.0" text-anchor="end" textLength="23.6" lengthAdjust="spacingAndGlyphs">500</text>
<text x="34.8" y="145.0" text-anchor="end" textLength="23.6" lengthAdjust="spacingAndGlyphs">600</text>
<text x="34.8" y="87.0" text-anchor="end" textLength="23.6" lengthAdjust="spacingAndGlyphs">700</text>
<text x="34.8" y="29.0" text-anchor="end" textLength="23.6" lengthAdjust="spacingAndGlyphs">800</text>
<text x="35.3" y="624.3" text-anchor="end" textLength="8.4" lengthAdjust="spacingAndGlyphs">0</text>
<text x="35.3" y="587.3" text-anchor="end" textLength="8.4" lengthAdjust="spacingAndGlyphs">2</text>
<text x="35.3" y="550.3" text-anchor="end" textLength="8.4" lengthAdjust="spacingAndGlyphs">4</text>
<text x="35.3" y="513.3" text-anchor="end" textLength="8.4" lengthAdjust="spacingAndGlyphs">6</text>
<text x="35.3" y="477.3" text-anchor="end" textLength="8.4" lengthAdjust="spacingAndGlyphs">8</text>
<text x="174.5" y="639.3" text-anchor="middle" textLength="53" lengthAdjust="spacingAndGlyphs">2021-01</text>
<text x="360.5" y="639.3" text-anchor="middle" textLength="53" lengthAdjust="spacingAndGlyphs">2022-01</text>
<text x="545.5" y="639.3" text-anchor="middle" textLength="53" lengthAdjust="spacingAndGlyphs">2023-01</text>
<text x="730.5" y="639.3" text-anchor="middle" textLength="53" lengthAdjust="spacingAndGlyphs">2024-01</text>
<text x="916.5" y="639.3" text-anchor="middle" textLength="53" lengthAdjust="spacingAndGlyphs">2025-01</text>
<text x="1101.5" y="639.3" text-anchor="middle" textLength="53" lengthAdjust="spacingAndGlyphs">2026-01</text>
<text x="45.2" y="467.2" textLength="23.2" lengthAdjust="spacingAndGlyphs">1e6</text>
<text transform="translate(17.6,547.2) rotate(-90)" text-anchor="middle" textLength="43.8" lengthAdjust="spacingAndGlyphs">Volume</text>
</g>
<rect x="52.6" y="17.6" width="108" height="118.4" rx="2.6" fill="#fff" fill-opacity="0.8" stroke="#ccc" stroke-opacity="0.8" stroke-width="1.1"/>
<g stroke-width="2.08" fill="none" stroke-linecap="butt">
<path d="M55.9 26.9H86.2" stroke="#000"/>
<path d="M55.9 47.0H86.2" stroke="#008000"/>
<path d="M55.9 67.9H86.2" stroke="#f00"/>
<path d="M55.9 86.2H86.2" stroke="#800080"/>
</g>
<path d="M71.6 95.3L82.0 116.10000000000001H61.199999999999996Z" fill="#008000"/>
<path d="M71.6 135.9L82.0 115.1H61.199999999999996Z" fill="#f00"/>
<g font-size="12.6" fill="#000">
<text x="96.4" y="32.4" textLength="33.4" lengthAdjust="spacingAndGlyphs">Close</text>
<text x="96.4" y="52.2" textLength="56.8" lengthAdjust="spacingAndGlyphs">MA50[买]</text>
<text x="96.4" y="73.2" textLength="56.8" lengthAdjust="spacingAndGlyphs">MA25[卖]</text>
<text x="96.4" y="92" textLength="42.4" lengthAdjust="spacingAndGlyphs">MA200</text>
<text x="96.4" y="109.8" textLength="20.5" lengthAdjust="spacingAndGlyphs">Buy</text>
<text x="96.4" y="129" textLength="22" lengthAdjust="spacingAndGlyphs">Sell</text>
</g>
<rect x="930" y="348.6" width="183" height="89.7" rx="4.5" fill="#fff" fill-opacity="0.9" stroke="#008000" stroke-opacity="0.85" stroke-width="1.1"/>
<g font-size="13.8" fill="#008000" fill-opacity="0.9" text-anchor="end">
<text x="1107.3" y="364.4" textLength="160.7" lengthAdjust="spacingAndGlyphs">599.97 (+9.71 +1.65%)</text>
<text x="1107.3" y="380.7" textLength="107.6" lengthAdjust="spacingAndGlyphs">479.26~795.43</text>
<text x="1107.3" y="396.9" textLength="164.7" lengthAdjust="spacingAndGlyphs">662.98/701.02/674.75</text>
<text x="1107.3" y="412.6" textLength="127.6" lengthAdjust="spacingAndGlyphs">2025-11-20 05:00</text>
<text x="1107.3" y="431.2" textLength="171.6" lengthAdjust="spacingAndGlyphs">+1.38/偏多/+1.70/-0.02</text>
</g>
<g font-size="16.7" fill="#000">
<text x="45.0" y="675.6" textLength="39.6" lengthAdjust="spacingAndGlyphs">META</text>
<text x="90.4" y="676.9" textLength="65" lengthAdjust="spacingAndGlyphs">交易次数</text>
<text x="156.2" y="675.6">:</text>
<text x="167.2" y="675.6" textLength="9.3" lengthAdjust="spacingAndGlyphs">5</text>
<text x="44.9" y="697.4" textLength="99.3" lengthAdjust="spacingAndGlyphs">策略总收益率</text>
<text x="144.3" y="696.1">:</text>
<text x="154.5" y="696.1" textLength="66.4" lengthAdjust="spacingAndGlyphs">150.62%</text>
<text x="44.9" y="716.7" textLength="99.3" lengthAdjust="spacingAndGlyphs">长期持有收益</text>
<text x="144.3" y="715.4">:</text>
<text x="154.5" y="715.4" textLength="66.4" lengthAdjust="spacingAndGlyphs">133.40%</text>
<text x="44.9" y="736.3" textLength="63.6" lengthAdjust="spacingAndGlyphs">交易记录</text>
<text x="108.6" y="735">:</text>
<text x="55.5" y="751.8" textLength="64" lengthAdjust="spacingAndGlyphs">Buy Date</text>
<text x="131.4" y="751.8" textLength="65" lengthAdjust="spacingAndGlyphs">Buy Price</text>
<text x="208.3" y="751.8" textLength="64.5" lengthAdjust="spacingAndGlyphs">Sell Date</text>
<text x="284.7" y="751.8" textLength="66.7" lengthAdjust="spacingAndGlyphs">Sell Price</text>
<text x="362.4" y="751.8" textLength="93.5" lengthAdjust="spacingAndGlyphs">Holding Days</text>
<text x="467.2" y="751.8" textLength="53.5" lengthAdjust="spacingAndGlyphs">Profit %</text>
<text x="45.8" y="769.6" textLength="88.2" lengthAdjust="spacingAndGlyphs">2020-10-06</text>
<text x="160.4" y="769.6" textLength="53.2" lengthAdjust="spacingAndGlyphs">257.06</text>
<text x="220.2" y="769.6" textLength="88.2" lengthAdjust="spacingAndGlyphs">2021-07-16</text>
<text x="339.5" y="769.6" textLength="54" lengthAdjust="spacingAndGlyphs">339.03</text>
<text x="449.6" y="769.6" textLength="29" lengthAdjust="spacingAndGlyphs">283</text>
<text x="547.6" y="769.6" text-anchor="end" textLength="43.5" lengthAdjust="spacingAndGlyphs">31.89</text>
<text x="45.8" y="786.7" textLength="88.2" lengthAdjust="spacingAndGlyphs">2021-09-20</text>
<text x="160.4" y="786.7" textLength="53.2" lengthAdjust="spacingAndGlyphs">353.53</text>
<text x="220.2" y="786.7" textLength="88.2" lengthAdjust="spacingAndGlyphs">2024-03-15</text>
<text x="339.5" y="786.7" textLength="54" lengthAdjust="spacingAndGlyphs">481.57</text>
<text x="449.6" y="786.7" textLength="29" lengthAdjust="spacingAndGlyphs">907</text>
<text x="547.6" y="786.7" text-anchor="end" textLength="43.5" lengthAdjust="spacingAndGlyphs">36.22</text>
<text x="45.8" y="803.4" textLength="88.2" lengthAdjust="spacingAndGlyphs">2024-04-19</text>
<text x="160.4" y="803.4" textLength="53.2" lengthAdjust="spacingAndGlyphs">478.56</text>
<text x="220.2" y="803.4" textLength="88.2" lengthAdjust="spacingAndGlyphs">2024-11-14</text>
<text x="339.5" y="803.4" textLength="54" lengthAdjust="spacingAndGlyphs">575.25</text>
<text x="449.6" y="803.4" textLength="29" lengthAdjust="spacingAndGlyphs">209</text>
<text x="548.9" y="803.4" text-anchor="end" textLength="43.5" lengthAdjust="spacingAndGlyphs">20.20</text>
<text x="45.8" y="821.0" textLength="88.2" lengthAdjust="spacingAndGlyphs">2024-11-15</text>
<text x="160.4" y="821.0" textLength="53.2" lengthAdjust="spacingAndGlyphs">552.36</text>
<text x="220.2" y="821.0" textLength="88.2" lengthAdjust="spacingAndGlyphs">2025-02-21</text>
<text x="339.5" y="821.0" textLength="54" lengthAdjust="spacingAndGlyphs">681.92</text>
<text x="455.4" y="821.0" textLength="18.4" lengthAdjust="spacingAndGlyphs">98</text>
<text x="543.6" y="821.0" text-anchor="end" textLength="43.5" lengthAdjust="spacingAndGlyphs">23.46</text>
<text x="45.8" y="838.6" textLength="88.2" lengthAdjust="spacingAndGlyphs">2025-03-04</text>
<text x="160.4" y="838.6" textLength="53.2" lengthAdjust="spacingAndGlyphs">638.26</text>
<text x="220.2" y="838.6" textLength="88.2" lengthAdjust="spacingAndGlyphs">2025-11-20</text>
<text x="339.5" y="838.6" textLength="54" lengthAdjust="spacingAndGlyphs">599.97</text>
<text x="449.6" y="838.6" textLength="29" lengthAdjust="spacingAndGlyphs">261</text>
<text x="543.6" y="838.6" text-anchor="end" textLength="39.5" lengthAdjust="spacingAndGlyphs">-6.00</text>
</g>
</svg>
</body></html>
